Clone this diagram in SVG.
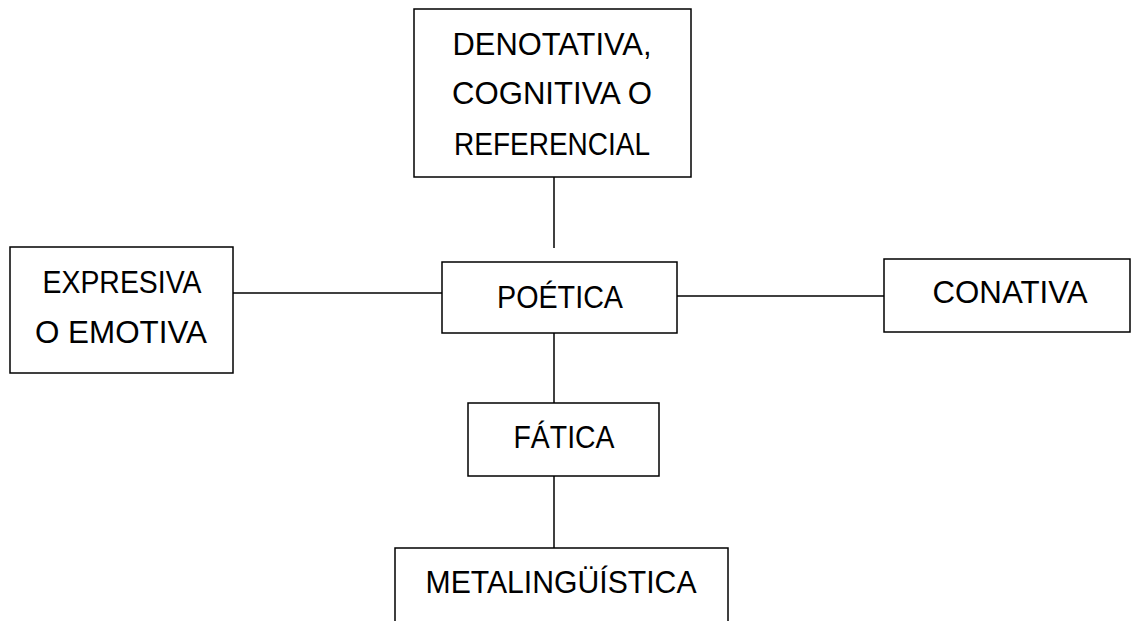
<svg xmlns="http://www.w3.org/2000/svg" width="1133" height="621" viewBox="0 0 1133 621">
<style>
.box{fill:#fff;stroke:#000;stroke-width:1.5}
.lbl{font-family:"Liberation Sans",Arial,sans-serif;font-size:32px;fill:#000;text-anchor:middle}
.con{stroke:#000;stroke-width:1.5;fill:none}
</style>
<rect width="1133" height="621" fill="#fff"/>
<g id="connectors">
<line class="con" x1="554" y1="177" x2="554" y2="248"/>
<line class="con" x1="233" y1="293" x2="442" y2="293"/>
<line class="con" x1="677" y1="296" x2="884" y2="296"/>
<line class="con" x1="554" y1="333" x2="554" y2="403"/>
<line class="con" x1="554" y1="476" x2="554" y2="548"/>
</g>
<g id="denotativa">
<rect class="box" x="414" y="9" width="277" height="168"/>
<text class="lbl" x="552" y="55" textLength="199" lengthAdjust="spacingAndGlyphs">DENOTATIVA,</text>
<text class="lbl" x="552" y="104" textLength="200" lengthAdjust="spacingAndGlyphs">COGNITIVA O</text>
<text class="lbl" x="552" y="155" textLength="196" lengthAdjust="spacingAndGlyphs">REFERENCIAL</text>
</g>
<g id="expresiva">
<rect class="box" x="10" y="247" width="223" height="126"/>
<text class="lbl" x="122" y="293" textLength="159" lengthAdjust="spacingAndGlyphs">EXPRESIVA</text>
<text class="lbl" x="121" y="343" textLength="172" lengthAdjust="spacingAndGlyphs">O EMOTIVA</text>
</g>
<g id="poetica">
<rect class="box" x="442" y="262" width="235" height="71"/>
<text class="lbl" x="560" y="308" textLength="126" lengthAdjust="spacingAndGlyphs">POÉTICA</text>
</g>
<g id="conativa">
<rect class="box" x="884" y="259" width="246" height="73"/>
<text class="lbl" x="1010" y="303" textLength="155" lengthAdjust="spacingAndGlyphs">CONATIVA</text>
</g>
<g id="fatica">
<rect class="box" x="468" y="403" width="191" height="73"/>
<text class="lbl" x="564" y="448" textLength="101" lengthAdjust="spacingAndGlyphs">FÁTICA</text>
</g>
<g id="metalinguistica">
<rect class="box" x="395" y="548" width="333" height="90"/>
<text class="lbl" x="561" y="593" textLength="271" lengthAdjust="spacingAndGlyphs">METALINGÜÍSTICA</text>
</g>
</svg>
